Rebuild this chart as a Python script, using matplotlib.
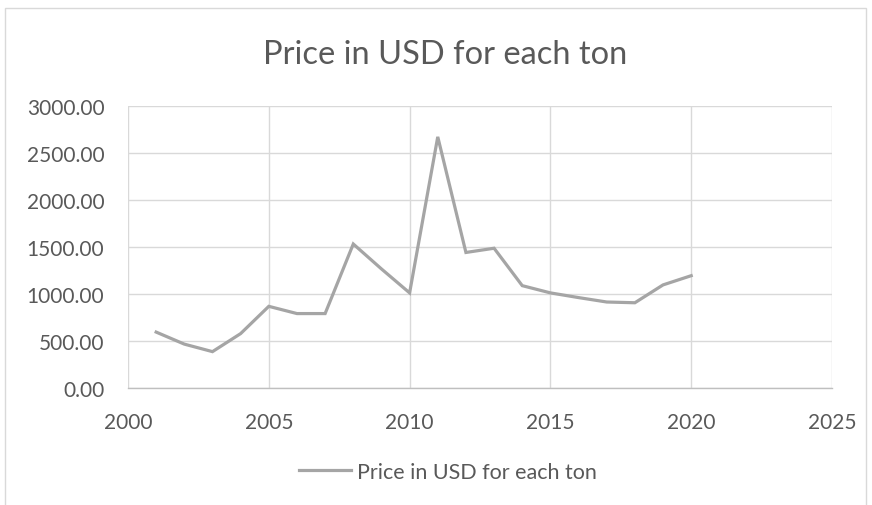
import matplotlib
matplotlib.use("Agg")
import matplotlib.pyplot as plt
from matplotlib.patches import Rectangle

years = [2001, 2002, 2003, 2004, 2005, 2006, 2007, 2008, 2009, 2010,
         2011, 2012, 2013, 2014, 2015, 2016, 2017, 2018, 2019, 2020]
price = [598, 470, 390, 582, 872, 795, 795, 1535, 1270, 1015,
         2675, 1445, 1490, 1092, 1015, 965, 918, 910, 1100, 1198]
series_name = "Price in USD for each ton"
x_ticks = [2000, 2005, 2010, 2015, 2020, 2025]
y_ticks = [0, 500, 1000, 1500, 2000, 2500, 3000]

plt.rcParams['font.family'] = ['Lato', 'DejaVu Sans']

fig = plt.figure(figsize=(8.72, 5.06), dpi=100)
# outer chart border
fig.patches.append(Rectangle((5 / 872, -0.05), 861 / 872, 1 - 9 / 506 + 0.05,
                             transform=fig.transFigure, fill=False,
                             edgecolor='#d9d9d9', linewidth=1))

ax = fig.add_axes([128 / 872, 1 - 389.3 / 506, 704 / 872, 282 / 506])
ax.plot(years, price, color='#a5a5a5', linewidth=2.3, label=series_name,
        solid_joinstyle='miter')

ax.set_xlim(2000, 2025)
ax.set_ylim(0, 3000)
ax.set_xticks(x_ticks)
ax.set_yticks(y_ticks)
ax.set_yticklabels(["%.2f" % v for v in y_ticks])
ax.grid(True, color='#d9d9d9', linewidth=1)
ax.set_axisbelow(True)
for side in ['left', 'right', 'top']:
    ax.spines[side].set_visible(False)
ax.spines['bottom'].set_color('#bfbfbf')
ax.spines['bottom'].set_linewidth(1)
ax.tick_params(length=0, colors='#595959', labelsize=15)
ax.tick_params(axis='x', pad=17)
ax.tick_params(axis='y', pad=17)

fig.text(0.51, 1 - 63.5 / 506, series_name, ha='center', va='baseline',
         fontsize=23.5, color='#595959')

fig.legend(loc='center', bbox_to_anchor=(448 / 872, 1 - 473 / 506),
           frameon=False, fontsize=15.5, labelcolor='#595959',
           handlelength=2.45, handletextpad=0.28)

fig.savefig("out.png", dpi=100)
